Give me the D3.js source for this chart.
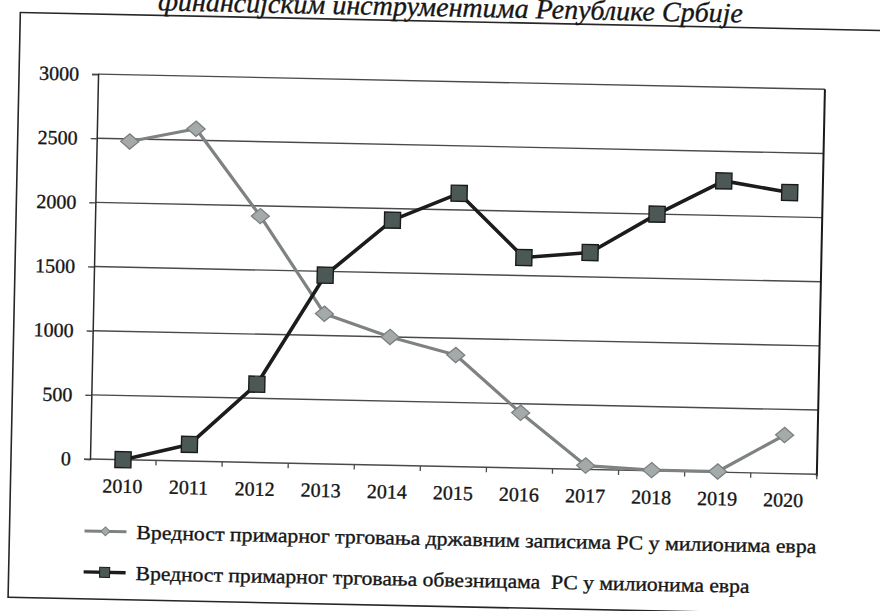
<!DOCTYPE html>
<html>
<head>
<meta charset="utf-8">
<script src="https://cdn.jsdelivr.net/npm/d3@7"></script>
<style>
  html, body { margin: 0; padding: 0; background: #fff; }
  svg { display: block; }
</style>
</head>
<body>
<svg id="chart" width="880" height="611"></svg>
<script>
// ---- data ----
const years = ["2010","2011","2012","2013","2014","2015","2016","2017","2018","2019","2020"];
const billsValues = [2480, 2590, 1920, 1170, 1000, 870, 430, 30, 5, 5, 300];
const bondsValues = [0, 130, 610, 1470, 1910, 2130, 1640, 1690, 2000, 2270, 2190];
const yTicks = [0, 500, 1000, 1500, 2000, 2500, 3000];
const titleText = "финансијским инструментима Републике Србије";
const legendLabels = [
  "Вредност примарног трговања државним записима РС у милионима евра",
  "Вредност примарног трговања обвезницама  РС у милионима евра"
];

const SERIF = "'Liberation Serif', 'Times New Roman', Times, 'DejaVu Serif', serif";
const INK = "#161616";

// ---- layout ----
const svg = d3.select("#chart");
const L = 90, R = 817, T = 74, B = 459;
const g = svg.append("g").attr("transform", "rotate(1.2, 90, 459)");

const x = d3.scaleBand().domain(years).range([L, R]).padding(0);
const cx = d => x(d) + x.bandwidth() / 2;
const y = d3.scaleLinear().domain([0, 3000]).range([B, T]);

function inkText(sel) {
  sel.style("font-family", SERIF).attr("fill", INK)
     .attr("stroke", INK).attr("stroke-width", 0.35);
}

// outer frame
g.append("rect").attr("x", 11).attr("y", 14).attr("width", 920).attr("height", 585)
  .attr("fill", "none").attr("stroke", "#262626").attr("stroke-width", 1.6);

// title (partially cut at top, as in the scanned reference)
g.append("text").attr("x", 441).attr("y", 9).attr("text-anchor", "middle")
  .style("font-style", "italic").style("font-size", "28px")
  .attr("textLength", 585).attr("lengthAdjust", "spacingAndGlyphs")
  .call(inkText)
  .text(titleText);

// gridlines
g.append("g").selectAll("line").data(yTicks).join("line")
  .attr("x1", L).attr("x2", R)
  .attr("y1", d => y(d)).attr("y2", d => y(d))
  .attr("stroke", "#4a4a4a").attr("stroke-width", 1.4);

// right border of plot area
g.append("line").attr("x1", R).attr("x2", R).attr("y1", T).attr("y2", B + 2)
  .attr("stroke", "#1a1a1a").attr("stroke-width", 2);

// y axis
const yAxis = g.append("g").attr("transform", `translate(${L},0)`)
  .call(d3.axisLeft(y).tickValues(yTicks).tickSize(6).tickPadding(13).tickFormat(d3.format("d")));
yAxis.select(".domain").attr("stroke", "#2a2a2a").attr("stroke-width", 1.5);
yAxis.selectAll(".tick line").attr("stroke", "#4a4a4a").attr("stroke-width", 1.4);
yAxis.selectAll(".tick text").style("font-size", "20px").call(inkText);

// x axis
const xAxis = g.append("g").attr("transform", `translate(0,${B})`)
  .call(d3.axisBottom(x).tickSize(0).tickPadding(19));
xAxis.select(".domain").remove();
xAxis.selectAll(".tick text").style("font-size", "20px").call(inkText);
// category boundary ticks
g.append("g").selectAll("line").data(years.slice(1)).join("line")
  .attr("x1", d => x(d)).attr("x2", d => x(d))
  .attr("y1", B).attr("y2", B + 5)
  .attr("stroke", "#4a4a4a").attr("stroke-width", 1.3);
g.append("line").attr("x1", R).attr("x2", R).attr("y1", B).attr("y2", B + 5)
  .attr("stroke", "#4a4a4a").attr("stroke-width", 1.3);

// series lines
const line = d3.line().x((d, i) => cx(years[i])).y(d => y(d));
g.append("path").datum(billsValues).attr("d", line)
  .attr("fill", "none").attr("stroke", "#7e8282").attr("stroke-width", 3.2).attr("stroke-linejoin", "round");
g.append("g").selectAll("path").data(billsValues).join("path")
  .attr("d", d3.symbol(d3.symbolSquare, 130))
  .attr("transform", (d, i) => `translate(${cx(years[i])},${y(d)}) scale(1.12,0.95) rotate(45)`)
  .attr("fill", "#a4a9a9").attr("stroke", "#7a7e7e").attr("stroke-width", 1.2);

g.append("path").datum(bondsValues).attr("d", line)
  .attr("fill", "none").attr("stroke", "#1c1c1c").attr("stroke-width", 3.6).attr("stroke-linejoin", "round");
g.append("g").selectAll("rect").data(bondsValues).join("rect")
  .attr("x", (d, i) => cx(years[i]) - 8).attr("y", d => y(d) - 8)
  .attr("width", 16).attr("height", 16)
  .attr("fill", "#4b5855").attr("stroke", "#1a1a1a").attr("stroke-width", 1.4);

// legend
const legY = [531, 572];
const leg = g.append("g");
leg.append("line").attr("x1", 86).attr("x2", 128).attr("y1", legY[0]).attr("y2", legY[0])
  .attr("stroke", "#7e8282").attr("stroke-width", 3);
leg.append("path").attr("d", d3.symbol(d3.symbolSquare, 40))
  .attr("transform", `translate(107,${legY[0]}) rotate(45)`)
  .attr("fill", "#a4a9a9").attr("stroke", "#7a7e7e").attr("stroke-width", 1);
leg.append("line").attr("x1", 86).attr("x2", 128).attr("y1", legY[1]).attr("y2", legY[1])
  .attr("stroke", "#1c1c1c").attr("stroke-width", 3.4);
leg.append("rect").attr("x", 102).attr("y", legY[1] - 5).attr("width", 10).attr("height", 10)
  .attr("fill", "#4b5855").attr("stroke", "#1a1a1a").attr("stroke-width", 1);
const legLen = [680, 614];
leg.selectAll("text").data(legendLabels).join("text")
  .attr("x", 138).attr("y", (d, i) => legY[i]).attr("dy", "0.35em")
  .style("font-size", "20px")
  .attr("textLength", (d, i) => legLen[i]).attr("lengthAdjust", "spacingAndGlyphs")
  .style("white-space", "pre")
  .call(inkText)
  .text(d => d);
</script>
</body>
</html>
